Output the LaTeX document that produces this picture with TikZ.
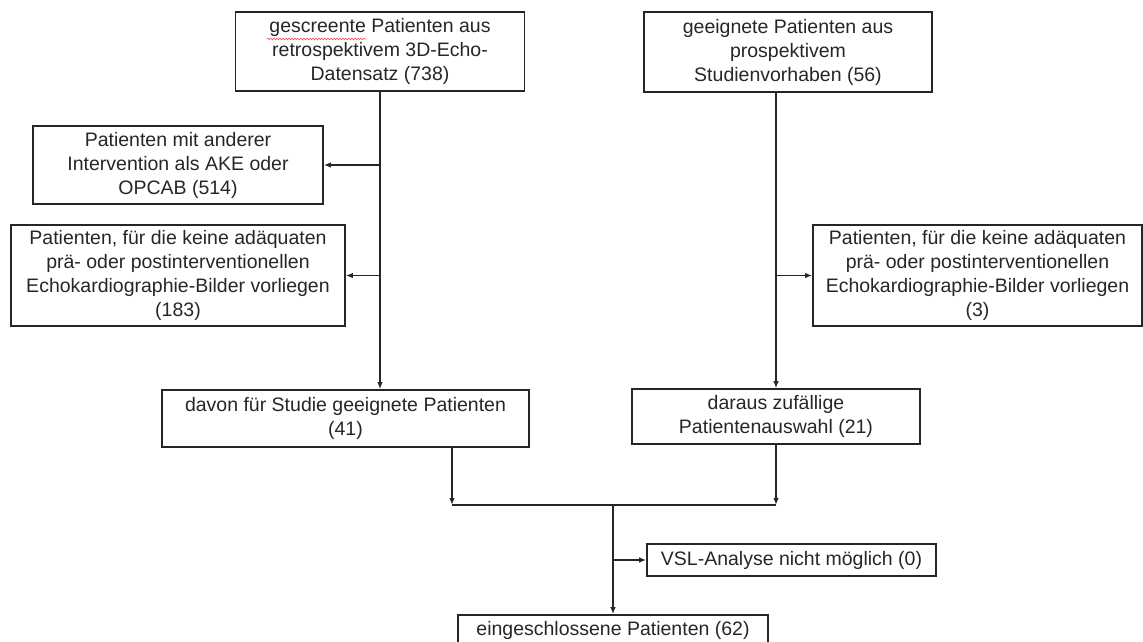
\documentclass[tikz,border=0pt]{standalone}
\usepackage{fontspec}
\setmainfont{Liberation Sans}
\usetikzlibrary{arrows.meta}
\usetikzlibrary{decorations.pathmorphing}

\begin{document}
\begin{tikzpicture}[x=1pt,y=-1pt,
  box/.style={draw=black!85,line width=1.6pt,align=center,inner sep=1pt,
    text=black!85,font=\fontsize{19.5}{24}\selectfont},
  arr/.style={-{Latex[length=7pt,width=5.5pt]},line width=1.4pt,draw=black!85},
  link/.style={line width=1.4pt,draw=black!85}]
\useasboundingbox (0,0) rectangle (1143,642);
% Ausgangsdaten
\node[box,minimum width=289pt,minimum height=79pt] (screen) at (380,51.5)
  {gescreente Patienten aus\\retrospektivem 3D-Echo-\\Datensatz (738)};
\node[box,minimum width=288pt,minimum height=80pt] (prosp) at (788,52)
  {geeignete Patienten aus\\prospektivem\\Studienvorhaben (56)};
% Ausschluesse
\node[box,minimum width=290pt,minimum height=78pt] (other) at (178,165)
  {Patienten mit anderer\\Intervention als AKE oder\\OPCAB (514)};
\node[box,minimum width=334pt,minimum height=101pt] (noimgL) at (178,275.5)
  {Patienten, für die keine adäquaten\\prä- oder postinterventionellen\\Echokardiographie-Bilder vorliegen\\(183)};
\node[box,minimum width=329pt,minimum height=101pt] (noimgR) at (977.5,275.5)
  {Patienten, für die keine adäquaten\\prä- oder postinterventionellen\\Echokardiographie-Bilder vorliegen\\(3)};
% Zwischenergebnisse
\node[box,minimum width=367pt,minimum height=57pt] (suited) at (345.5,418.5)
  {davon für Studie geeignete Patienten\\(41)};
\node[box,minimum width=288pt,minimum height=55pt] (random) at (776,416.5)
  {daraus zufällige\\Patientenauswahl (21)};
\node[box,minimum width=289pt,minimum height=32pt] (vsl) at (791.5,560)
  {VSL-Analyse nicht möglich (0)};
\node[box,minimum width=310pt,minimum height=30pt] (final) at (613,630)
  {eingeschlossene Patienten (62)};
% Rechtschreibmarkierung
\draw[red!70,line width=0.6pt,decorate,
  decoration={snake,amplitude=0.8pt,segment length=3pt}] (267,39) -- (366,39);
% Verbindungen
\coordinate (rtop) at (random.north |- prosp.south);
\coordinate (jl) at (452,505);
\draw[arr] (screen.south) -- (screen.south |- suited.north);
\draw[arr] (screen.south |- other.east) -- (other.east);
\draw[arr] (screen.south |- noimgL.east) -- (noimgL.east);
\draw[arr] (rtop) -- (random.north);
\draw[arr] (rtop |- noimgR.west) -- (noimgR.west);
\draw[arr] (suited.south -| jl) -- (jl);
\draw[arr] (random.south) -- (random.south |- jl);
\draw[link] (jl) -- (random.south |- jl);
\draw[arr] (final.north |- jl) -- (final.north);
\draw[arr] (final.north |- vsl.west) -- (vsl.west);
\end{tikzpicture}
\end{document}
